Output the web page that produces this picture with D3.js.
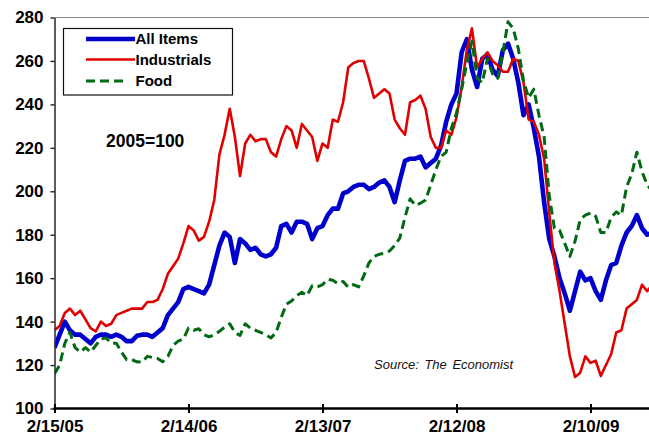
<!DOCTYPE html>
<html>
<head>
<meta charset="utf-8">
<script src="https://cdn.jsdelivr.net/npm/d3@7"></script>
<style>
  html, body { margin: 0; padding: 0; background: #fff; overflow: hidden; }
  svg { display: block; font-family: "Liberation Sans", Arial, sans-serif; }
</style>
</head>
<body>
<svg id="chart" width="649" height="435"></svg>
<script>
// Economist commodity-price indices, 2005=100, sampled every two weeks
const firstWeek = "2005-02-15";
const stepDays = 14;

const allItems = [
  128, 134, 140, 136, 134, 134, 132, 130, 133, 134,
  134, 133, 134, 133, 131, 131, 133.5, 134, 134, 133,
  135, 137, 143, 146, 149, 155, 156, 155, 154, 153,
  157, 166, 175, 181, 179, 167, 178, 176, 173, 174,
  171, 170, 171, 174, 184, 185, 181, 186, 186, 185,
  178, 183, 184, 189, 192, 192, 199, 200, 202, 203,
  203, 201, 202, 204, 205, 202, 195, 205, 214, 215,
  215, 216, 211, 213, 215, 221, 232, 240, 245, 264,
  270, 256, 248, 261, 263, 256, 253, 265, 268, 261,
  250, 235, 240, 229, 216, 195, 178, 170, 160, 153,
  145, 154, 163, 159, 160, 154, 150, 159, 166, 167,
  175, 181, 184, 189, 183, 180, 181
];

const industrials = [
  136, 138, 144, 146, 143, 145, 141, 137, 135.5, 140,
  138, 139, 143, 144, 145, 146, 146, 146, 149, 149,
  150, 155, 162, 165.5, 169, 176, 184, 182, 177.3, 179,
  186, 196, 217, 226, 238, 225, 207, 222, 226, 223,
  224, 224, 218, 216, 224, 230, 228, 220, 231, 228,
  225, 214, 222, 220, 233, 232, 241, 257, 259, 260,
  260, 252, 243, 245, 247, 245, 233, 229, 226, 241,
  242, 244, 238, 225, 220, 220, 228, 226, 234, 248,
  265, 275, 257, 261, 264, 260, 258, 255, 255, 261,
  260, 250, 233, 232, 226, 215, 190, 167, 154, 139,
  124, 114.5, 116.5, 124, 121, 122, 115, 120, 125, 135,
  136, 146, 148, 150, 157, 154, 157
];

const food = [
  116, 120, 130, 135, 128, 126, 128, 126, 129, 132,
  132.5, 130, 130, 126, 122.5, 122.5, 121.5, 121.3, 124, 123.5,
  123, 121.5, 124, 129, 131, 132, 137, 136, 136.7, 134,
  133, 134, 135.5, 137.5, 139, 135, 133.6, 139, 137, 136,
  135, 134, 132.5, 135, 142, 148, 149.5, 152, 153.5, 152,
  156.5, 156, 157, 159.5, 159, 157.5, 158.5, 155.8, 157, 156,
  161, 167, 170, 171, 171.5, 172.5, 175, 178.5, 188, 196.5,
  193.5, 194.5, 196, 203, 210, 216, 218, 229, 236, 247,
  259, 269, 252, 250, 261, 254, 252, 264, 278, 275,
  265.6, 251, 243, 247, 235, 225, 198, 183, 182, 176,
  170, 177, 187, 189, 190, 188.5, 181, 181, 188, 190.5,
  189, 202, 208, 218, 209, 203, 200
];

const xTickDates = ["2005-02-15", "2006-02-14", "2007-02-13", "2008-02-12", "2009-02-10"];
const xTickLabels = ["2/15/05", "2/14/06", "2/13/07", "2/12/08", "2/10/09"];
const yTicks = [100, 120, 140, 160, 180, 200, 220, 240, 260, 280];
const seriesNames = ["All Items", "Industrials", "Food"];
const baseNote = "2005=100";
const sourceNote = "Source: The Economist";

const W = 649, H = 435;
const plotLeft = 54.5, plotTop = 17.5, plotBottom = 408.5;

const parse = d3.utcParse("%Y-%m-%d");
const start = parse(firstWeek);
const dateAt = i => d3.utcDay.offset(start, i * stepDays);

const x = d3.scaleUtc()
  .domain([parse(xTickDates[0]), parse(xTickDates[xTickDates.length - 1])])
  .range([plotLeft, 590.5]);
const y = d3.scaleLinear().domain([100, 280]).range([plotBottom, plotTop]);

const svg = d3.select("#chart");

svg.append("defs").append("clipPath").attr("id", "plot-clip")
  .append("rect").attr("x", plotLeft).attr("y", plotTop - 3)
  .attr("width", W - plotLeft).attr("height", plotBottom - plotTop + 3);

// top frame line
svg.append("line")
  .attr("x1", plotLeft).attr("x2", W).attr("y1", plotTop).attr("y2", plotTop)
  .attr("stroke", "#8a8a8a").attr("stroke-width", 1.2);

const styles = [
  { color: "#0000cc", width: 4.6, dash: null },
  { color: "#e00000", width: 2.6, dash: null },
  { color: "#006a12", width: 3, dash: "9,5" }
];
const seriesData = [allItems, industrials, food];

const line = d3.line()
  .x((d, i) => x(dateAt(i)))
  .y(d => y(d));

const plot = svg.append("g").attr("clip-path", "url(#plot-clip)");
seriesData.forEach((vals, k) => {
  plot.append("path")
    .datum(vals)
    .attr("d", line)
    .attr("fill", "none")
    .attr("stroke", styles[k].color)
    .attr("stroke-width", styles[k].width)
    .attr("stroke-linejoin", "round")
    .attr("stroke-dasharray", styles[k].dash);
});

// y axis
const yAxis = svg.append("g")
  .attr("transform", `translate(${plotLeft},0)`)
  .call(d3.axisLeft(y).tickValues(yTicks).tickFormat(d3.format("d"))
    .tickSizeInner(4).tickSizeOuter(0).tickPadding(7));
yAxis.select(".domain").attr("stroke", "#333").attr("stroke-width", 1.6);
yAxis.selectAll(".tick line").attr("stroke", "#222").attr("stroke-width", 1.4);
yAxis.selectAll(".tick text")
  .attr("fill", "#000").attr("font-size", 17).attr("font-weight", "bold")
  .attr("font-family", "Liberation Sans, Arial, sans-serif");

// x axis
const xAxis = svg.append("g")
  .attr("transform", `translate(0,${plotBottom})`)
  .call(d3.axisBottom(x).tickValues(xTickDates.map(parse))
    .tickFormat((d, i) => xTickLabels[i]).tickSizeOuter(0).tickSizeInner(4));
xAxis.select(".domain").remove();
xAxis.insert("line", ":first-child")
  .attr("x1", plotLeft - 1).attr("x2", W).attr("y1", 0).attr("y2", 0)
  .attr("stroke", "#000").attr("stroke-width", 2.6);
xAxis.selectAll(".tick line")
  .attr("y1", -4.5).attr("y2", 4.5).attr("stroke", "#000").attr("stroke-width", 2);
xAxis.selectAll(".tick text")
  .attr("y", 23).attr("dy", 0)
  .attr("fill", "#000").attr("font-size", 17).attr("font-weight", "bold")
  .attr("font-family", "Liberation Sans, Arial, sans-serif");

// legend
const legend = svg.append("g");
legend.append("rect")
  .attr("x", 63.5).attr("y", 28.5).attr("width", 169).attr("height", 66.5)
  .attr("fill", "#fff").attr("stroke", "#111").attr("stroke-width", 1.2);
const legendY = [39, 59.5, 81];
seriesNames.forEach((name, k) => {
  legend.append("line")
    .attr("x1", 86).attr("x2", k === 2 ? 124 : 135)
    .attr("y1", legendY[k]).attr("y2", legendY[k])
    .attr("stroke", styles[k].color).attr("stroke-width", styles[k].width)
    .attr("stroke-dasharray", styles[k].dash);
  legend.append("text")
    .attr("x", 135.5).attr("y", legendY[k] + 5)
    .attr("font-size", 15).attr("font-weight", "bold").attr("fill", "#000")
    .text(name);
});

svg.append("text")
  .attr("x", 106).attr("y", 146.5)
  .attr("font-size", 17.5).attr("font-weight", "bold").attr("fill", "#000")
  .text(baseNote);

svg.append("text")
  .attr("x", 374).attr("y", 368.5)
  .attr("font-size", 13).attr("font-style", "italic").attr("fill", "#111")
  .attr("word-spacing", 2)
  .text(sourceNote);
</script>
</body>
</html>
